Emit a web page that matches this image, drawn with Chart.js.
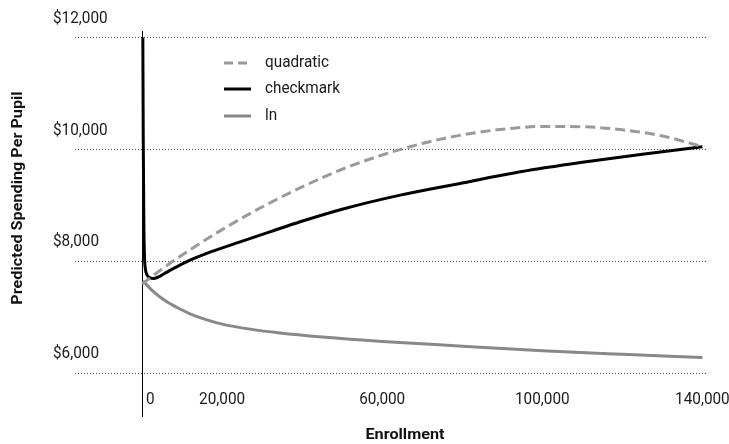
<!DOCTYPE html>
<html>
<head>
<meta charset="utf-8">
<script src="https://cdn.jsdelivr.net/npm/chart.js@4.4.1/dist/chart.umd.min.js"></script>
<style>
  html, body { margin: 0; padding: 0; background: #ffffff; }
  #wrap { width: 729px; height: 444px; position: relative; }
</style>
</head>
<body>
<div id="wrap"><canvas id="chart" width="729" height="444"></canvas></div>
<script>
// Predicted spending per pupil as a function of district enrollment, three model fits.
const seriesNames = ['quadratic', 'checkmark', 'ln'];

const enrollQuadratic = [0, 5000, 10000, 20000, 30000, 40000, 50000, 60000, 70000, 80000, 90000, 100000, 110000, 120000, 130000, 140000];
const spendQuadratic  = [7590, 7860, 8110, 8565, 8970, 9330, 9645, 9900, 10105, 10260, 10360, 10410, 10405, 10350, 10240, 10050];

const enrollCheckmark = [200, 300, 450, 600, 800, 1200, 2000, 2800, 4000, 5500, 7800, 12000, 16000, 24500, 32800, 39500, 50000, 64500, 80000, 94500, 110000, 125000, 140000];
const spendCheckmark  = [12000, 10200, 8700, 8100, 7880, 7760, 7705, 7690, 7715, 7775, 7868, 8018, 8135, 8345, 8545, 8705, 8930, 9182, 9400, 9599, 9770, 9915, 10047];

const enrollLn = [250, 1000, 2000, 3000, 4500, 6500, 9500, 12000, 16000, 20000, 27000, 34500, 45000, 60000, 80000, 100000, 120000, 140000];
const spendLn  = [7650, 7590, 7515, 7445, 7360, 7262, 7145, 7060, 6955, 6875, 6785, 6716, 6645, 6565, 6480, 6400, 6335, 6276];

const xTickValues = [0, 20000, 60000, 100000, 140000];
const xTickLabels = ['0', '20,000', '60,000', '100,000', '140,000'];
const yTickValues = [6000, 8000, 10000, 12000];
const yTickLabels = ['$6,000', '$8,000', '$10,000', '$12,000'];

const xTitle = 'Enrollment';
const yTitle = 'Predicted Spending Per Pupil';

const FONT = 'Roboto, "DejaVu Sans", sans-serif';
const TICK_FONT = '17px ' + FONT;
const KEY_FONT = '17px ' + FONT;
const TITLE_FONT = 'bold 15.5px ' + FONT;

function pairs(xs, ys) { return xs.map((x, i) => ({ x: x, y: ys[i] })); }

// Text is set in a narrowed face: horizontal squeeze fixed from one sample width.
function squeeze(ctx, font, sample, width) {
  ctx.save();
  ctx.font = font;
  const w = ctx.measureText(sample).width;
  ctx.restore();
  return width / w;
}

function drawText(ctx, text, x, y, align, font, sx, rotate) {
  ctx.save();
  ctx.font = font;
  ctx.textAlign = align;
  ctx.textBaseline = 'middle';
  ctx.translate(x, y);
  if (rotate) ctx.rotate(rotate);
  ctx.scale(sx, 1);
  ctx.fillText(text, 0, 0);
  ctx.restore();
}

// Axis line at zero enrollment, drawn under the curves.
const zeroAxis = {
  id: 'zeroAxis',
  beforeDatasetsDraw(chart) {
    const ctx = chart.ctx;
    const x = Math.round(chart.scales.x.getPixelForValue(0)) + 0.5;
    ctx.save();
    ctx.strokeStyle = '#000000';
    ctx.lineWidth = 1;
    ctx.beginPath();
    ctx.moveTo(x, 31);
    ctx.lineTo(x, 417);
    ctx.stroke();
    ctx.restore();
  }
};

// Tick labels, axis titles and the inline key.
const textLayer = {
  id: 'textLayer',
  afterDraw(chart) {
    const ctx = chart.ctx;
    const xs = chart.scales.x, ys = chart.scales.y;
    const sxTick = squeeze(ctx, TICK_FONT, '20,000', 46);
    const sxTitle = squeeze(ctx, TITLE_FONT, 'Enrollment', 79);
    ctx.save();
    ctx.fillStyle = '#1a1a1a';

    // y tick labels sit above their grid lines
    yTickValues.forEach((v, i) => {
      drawText(ctx, yTickLabels[i], 53, ys.getPixelForValue(v) - 19, 'left', TICK_FONT, sxTick);
    });

    // x tick labels
    xTickValues.forEach((v, i) => {
      const px = xs.getPixelForValue(v);
      if (v === 0) {
        drawText(ctx, xTickLabels[i], px + 4, 400, 'left', TICK_FONT, sxTick);
      } else {
        drawText(ctx, xTickLabels[i], px, 400, 'center', TICK_FONT, sxTick);
      }
    });

    // axis titles
    ctx.fillStyle = '#111111';
    drawText(ctx, xTitle, 405, 435, 'center', TITLE_FONT, sxTitle);
    drawText(ctx, yTitle, 18, 198, 'center', TITLE_FONT, sxTitle, -Math.PI / 2);

    // key
    const rows = [63, 89, 116];
    chart.data.datasets.forEach((ds, i) => {
      const y = rows[i];
      ctx.save();
      ctx.strokeStyle = ds.borderColor;
      ctx.lineWidth = 3;
      ctx.setLineDash(ds.borderDash && ds.borderDash.length ? [9, 5] : []);
      ctx.beginPath();
      ctx.moveTo(224, y);
      ctx.lineTo(251, y);
      ctx.stroke();
      ctx.restore();
      ctx.fillStyle = '#1a1a1a';
      drawText(ctx, ds.label, 265, y, 'left', KEY_FONT, sxTick);
    });
    ctx.restore();
  }
};

new Chart(document.getElementById('chart'), {
  type: 'line',
  data: {
    datasets: [
      {
        label: seriesNames[0],
        data: pairs(enrollQuadratic, spendQuadratic),
        borderColor: '#9a9a9a',
        borderWidth: 3,
        borderDash: [10, 5],
        pointRadius: 0,
        cubicInterpolationMode: 'monotone',
        fill: false
      },
      {
        label: seriesNames[1],
        data: pairs(enrollCheckmark, spendCheckmark),
        borderColor: '#000000',
        borderWidth: 3,
        pointRadius: 0,
        cubicInterpolationMode: 'monotone',
        fill: false
      },
      {
        label: seriesNames[2],
        data: pairs(enrollLn, spendLn),
        borderColor: '#888888',
        borderWidth: 3,
        pointRadius: 0,
        cubicInterpolationMode: 'monotone',
        fill: false
      }
    ]
  },
  options: {
    responsive: false,
    animation: false,
    events: [],
    layout: { padding: { left: 75, right: 23, top: 32, bottom: 57 } },
    plugins: { legend: { display: false }, tooltip: { enabled: false } },
    scales: {
      x: {
        type: 'linear',
        min: -16750,
        max: 140900,
        display: false
      },
      y: {
        type: 'linear',
        min: 5750,
        max: 12100,
        afterBuildTicks(scale) { scale.ticks = yTickValues.map(v => ({ value: v })); },
        ticks: { display: false },
        border: { display: false, dash: [1, 2] },
        grid: { color: '#444444', lineWidth: 1, drawTicks: false }
      }
    }
  },
  plugins: [zeroAxis, textLayer]
});
</script>
</body>
</html>
